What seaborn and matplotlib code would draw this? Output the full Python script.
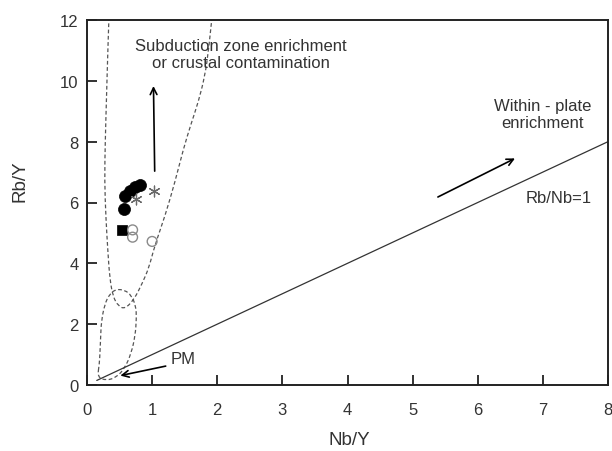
import numpy as np
import pandas as pd
import matplotlib
matplotlib.use("Agg")
import matplotlib.pyplot as plt
from matplotlib.path import Path
from matplotlib.patches import PathPatch
import seaborn as sns

# ---- data ----
filled_circle_x = [0.57, 0.58, 0.66, 0.74, 0.81]
filled_circle_y = [5.78, 6.22, 6.38, 6.50, 6.58]
square_x = [0.53]
square_y = [5.10]
open_circle_x = [0.70, 0.70, 1.00]
open_circle_y = [5.10, 4.86, 4.72]
asterisk_x = [1.03, 0.76]
asterisk_y = [6.39, 6.12]

# Rb/Nb = 1 reference line
ref_x = [0.15, 8.0]
ref_y = [0.15, 8.0]

# Subduction-enrichment field boundary (U shape)
field_u_x = [0.34, 0.32, 0.30, 0.28, 0.27, 0.29, 0.32, 0.35, 0.40, 0.48, 0.58,
             0.72, 0.85, 0.95, 1.04, 1.20, 1.35, 1.48, 1.60, 1.71, 1.81, 1.87, 1.93]
field_u_y = [12.3, 11.0, 9.5, 8.0, 6.7, 5.5, 4.4, 3.5, 2.9, 2.6, 2.5,
             2.8, 3.35, 3.85, 4.58, 5.57, 6.67, 7.76, 8.6, 9.31, 10.16, 11.05, 12.3]

# Primitive-mantle field loop (closed)
field_pm_x = [0.16, 0.19, 0.20, 0.21, 0.22, 0.27, 0.35, 0.45, 0.58, 0.68, 0.75,
              0.76, 0.74, 0.68, 0.58, 0.45, 0.30, 0.16]
field_pm_y = [0.25, 0.70, 1.10, 1.60, 2.07, 2.65, 3.00, 3.15, 3.12, 2.95, 2.60,
              2.20, 1.62, 1.05, 0.55, 0.25, 0.15, 0.25]

x_ticks = [0, 1, 2, 3, 4, 5, 6, 7, 8]
y_ticks = [0, 2, 4, 6, 8, 10, 12]

# ---- style ----
sns.set_theme(style="ticks")
plt.rcParams['font.family'] = ['Liberation Sans', 'DejaVu Sans']
txt_col = "#333333"

fig = plt.figure(figsize=(6.12, 4.52), dpi=100)
ax = fig.add_axes([87 / 612, 66 / 452, 521 / 612, 365 / 452])


def smooth_path(xs, ys, closed=False):
    pts = list(zip(xs, ys))
    verts = [pts[0]]
    codes = [Path.MOVETO]
    if not closed:
        for i in range(1, len(pts) - 1):
            mid = ((pts[i][0] + pts[i + 1][0]) / 2, (pts[i][1] + pts[i + 1][1]) / 2)
            if i == len(pts) - 2:
                mid = pts[i + 1]
            verts += [pts[i], mid]
            codes += [Path.CURVE3, Path.CURVE3]
    else:
        p = pts[:-1]
        n = len(p)
        start = ((p[0][0] + p[1][0]) / 2, (p[0][1] + p[1][1]) / 2)
        verts = [start]
        codes = [Path.MOVETO]
        for i in range(1, n + 1):
            a = p[i % n]
            b = p[(i + 1) % n]
            mid = ((a[0] + b[0]) / 2, (a[1] + b[1]) / 2)
            verts += [a, mid]
            codes += [Path.CURVE3, Path.CURVE3]
    return Path(verts, codes)


dash = (0, (3.0, 2.0))
ax.add_patch(PathPatch(smooth_path(field_u_x, field_u_y), fill=False,
                       edgecolor="#555555", lw=0.9, linestyle=dash, clip_on=True))
ax.add_patch(PathPatch(smooth_path(field_pm_x, field_pm_y, closed=True), fill=False,
                       edgecolor="#555555", lw=0.9, linestyle=dash))

# reference line
ref_df = pd.DataFrame({"x": ref_x, "y": ref_y})
sns.lineplot(data=ref_df, x="x", y="y", ax=ax, color="#333333", lw=0.9, legend=False)

# samples
sns.scatterplot(x=filled_circle_x, y=filled_circle_y, ax=ax, marker="o", s=75,
                color="black", edgecolor="black", linewidth=0.5, zorder=5)
sns.scatterplot(x=square_x, y=square_y, ax=ax, marker="s", s=60,
                color="black", edgecolor="black", linewidth=0.5, zorder=5)
sns.scatterplot(x=open_circle_x, y=open_circle_y, ax=ax, marker="o", s=50,
                facecolor="none", edgecolor="#8a8a8a", linewidth=1.0, zorder=5)
sns.scatterplot(x=asterisk_x, y=asterisk_y, ax=ax, marker=(6, 2, 0), s=60,
                color="#6a6a6a", linewidth=0.9, zorder=5)

# arrows
arrow_kw = dict(arrowstyle="->", color="black", lw=1.2, mutation_scale=12)
ax.annotate("", xy=(1.02, 9.92), xytext=(1.04, 6.94), arrowprops=arrow_kw)
ax.annotate("", xy=(6.61, 7.49), xytext=(5.35, 6.14), arrowprops=arrow_kw)
ax.annotate("", xy=(0.47, 0.29), xytext=(1.25, 0.64), arrowprops=arrow_kw)

# annotations
ax.text(2.36, 10.88, "Subduction zone enrichment\nor crustal contamination",
        ha="center", va="center", fontsize=12, color=txt_col, linespacing=1.15)
ax.text(7.0, 8.90, "Within - plate\nenrichment", ha="center", va="center",
        fontsize=12, color=txt_col, linespacing=1.15)
ax.text(7.25, 6.18, "Rb/Nb=1", ha="center", va="center", fontsize=12, color=txt_col)
ax.text(1.29, 0.86, "PM", ha="left", va="center", fontsize=12, color=txt_col)

# axes
ax.set_xlim(0, 8)
ax.set_ylim(0, 12)
ax.set_xticks(x_ticks)
ax.set_yticks(y_ticks)
ax.set_xticklabels([str(t) for t in x_ticks])
ax.set_yticklabels([str(t) for t in y_ticks])
for sp in ax.spines.values():
    sp.set_visible(True)
    sp.set_color("#222222")
    sp.set_linewidth(1.4)
ax.tick_params(axis="both", direction="in", length=7, width=1.3, colors="#222222",
               labelsize=12, labelcolor=txt_col)
ax.tick_params(axis="x", pad=12)
ax.tick_params(axis="y", pad=6)
ax.set_xlabel("Nb/Y", fontsize=13.5, color=txt_col)
ax.set_ylabel("Rb/Y", fontsize=13.5, color=txt_col)
ax.xaxis.set_label_coords(0.503, -0.125)
ax.yaxis.set_label_coords(-0.113, 0.56)
ax.grid(False)

fig.savefig("out.png", dpi=100)
